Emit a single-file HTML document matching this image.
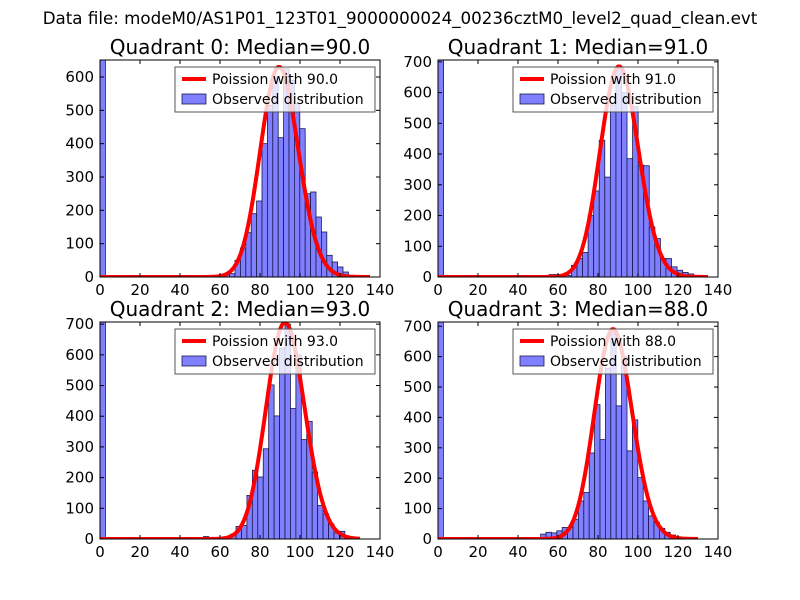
<!DOCTYPE html>
<html><head><meta charset="utf-8"><style>
body{margin:0;background:#fff;}
svg{display:block;font-family:"DejaVu Sans","Liberation Sans",sans-serif;}
</style></head><body>
<svg id="fig" width="800" height="600" viewBox="0 0 800 600">
<rect width="800" height="600" fill="#fff"/>
<text x="400" y="24" text-anchor="middle" font-size="16.7">Data file: modeM0/AS1P01_123T01_9000000024_00236cztM0_level2_quad_clean.evt</text>
</svg>
<script>
// ---- data ----
const quadrantNames = ["Quadrant 0","Quadrant 1","Quadrant 2","Quadrant 3"];
const medians = [90.0, 91.0, 93.0, 88.0];
const zeroBinCounts = [651, 706, 707, 714];
const binWidths = [2.7, 2.78, 2.72, 2.7];
const firstBinStarts = [56.7, 55.6, 51.7, 51.3];
const counts0 = [5,5,8,10,50,87,133,190,228,400,515,600,418,625,590,520,445,250,255,180,135,65,45,30,15,5];
const counts1 = [8,8,5,5,38,60,80,200,280,445,325,560,680,600,385,554,364,362,163,125,60,60,33,22,15,10];
const counts2 = [8,5,3,3,5,16,41,44,142,224,202,294,502,401,622,700,425,600,324,383,218,109,82,49,20,25];
const counts3 = [16,22,20,27,38,38,65,125,153,283,442,327,562,678,438,600,290,392,202,125,76,55,35,22,13];
const curvePeaks = [630, 685, 705, 690];
const curveMax = [135, 135, 130, 130];
const xTicks = [0,20,40,60,80,100,120,140];
const yTicks0 = [0,100,200,300,400,500,600];
const yTicks1 = [0,100,200,300,400,500,600,700];
const allCounts = [counts0, counts1, counts2, counts3];
const allYTicks = [yTicks0, yTicks1, yTicks1, yTicks1];

const NS = "http://www.w3.org/2000/svg";
const svg = document.getElementById("fig");
const boxes = [[100,60,380,277],[438,60,718,277],[100,322,380,539],[438,322,718,539]];
function mk(tag, attrs, parent){const e=document.createElementNS(NS,tag);for(const k in attrs)e.setAttribute(k,attrs[k]);(parent||svg).appendChild(e);return e;}
function lnGamma(z){
  if(z<7){let p=1;while(z<7){p*=z;z+=1;}return lnGamma(z)-Math.log(p);}
  return (z-0.5)*Math.log(z)-z+0.5*Math.log(2*Math.PI)+1/(12*z)-1/(360*z*z*z);
}
function logPmf(k,mu){return k*Math.log(mu)-mu-lnGamma(k+1);}

for(let q=0;q<4;q++){
  const [L,T,R,B]=boxes[q];
  const ymax=zeroBinCounts[q];
  const X=v=>L+(v/140)*(R-L);
  const Y=v=>B-(v/ymax)*(B-T);
  const g=mk("g",{});
  
  
  const cid="clip"+q;
  const cp=mk("clipPath",{id:cid},g);mk("rect",{x:L,y:T,width:R-L,height:B-T},cp);
  const plot=mk("g",{"clip-path":"url(#"+cid+")"},g);
  const z=mk("rect",{x:X(0),y:Y(zeroBinCounts[q]),width:X(binWidths[q])-X(0),height:B-Y(zeroBinCounts[q]),fill:"#7f7fff",stroke:"#1a1a4d","stroke-width":0.8},plot);
  
  
  const cs=allCounts[q];
  for(let i=0;i<cs.length;i++){
    const x0=firstBinStarts[q]+i*binWidths[q];
    const r=mk("rect",{x:X(x0),y:Y(cs[i]),width:X(x0+binWidths[q])-X(x0),height:B-Y(cs[i]),fill:"#7f7fff",stroke:"#1a1a4d","stroke-width":0.8},plot);
    
    
  }
  const mu=medians[q];const peak=logPmf(Math.floor(mu),mu);
  let d="";
  for(let k=0;k<=curveMax[q];k++){
    const v=curvePeaks[q]*Math.exp(logPmf(k,mu)-peak);
    d+=(k?"L":"M")+X(k).toFixed(1)+","+Y(v).toFixed(1);
  }
  const c=mk("path",{d:d,fill:"none",stroke:"#ff0000","stroke-width":4,"stroke-linejoin":"round"},plot);
  
  
  mk("rect",{x:L,y:T,width:R-L,height:B-T,fill:"none",stroke:"#000","stroke-width":1},g);
  for(const t of xTicks){
    const x=X(t);
    mk("line",{x1:x,y1:B,x2:x,y2:B-4,stroke:"#000"},g);
    mk("line",{x1:x,y1:T,x2:x,y2:T+4,stroke:"#000"},g);
    const tx=mk("text",{x:x,y:B+18,"text-anchor":"middle","font-size":15},g);tx.textContent=t;
    
    
  }
  for(const t of allYTicks[q]){
    const y=Y(t);
    mk("line",{x1:L,y1:y,x2:L+4,y2:y,stroke:"#000"},g);
    mk("line",{x1:R,y1:y,x2:R-4,y2:y,stroke:"#000"},g);
    const ty=mk("text",{x:L-6,y:y+5,"text-anchor":"end","font-size":15},g);ty.textContent=t;
    
    
  }
  const tt=mk("text",{x:(L+R)/2,y:T-6,"text-anchor":"middle","font-size":20},g);
  tt.textContent=quadrantNames[q]+": Median="+medians[q].toFixed(1);
  
  
  const lg=mk("g",{},g);
  
  
  const lx=R-205, ly=T+7;
  mk("rect",{x:lx,y:ly,width:200,height:45,fill:"#fff","fill-opacity":0.8,stroke:"#555","stroke-width":1},lg);
  mk("line",{x1:lx+7,y1:ly+12,x2:lx+31,y2:ly+12,stroke:"#ff0000","stroke-width":4},lg);
  const l1=mk("text",{x:lx+37,y:ly+17,"font-size":14},lg);l1.textContent="Poission with "+medians[q].toFixed(1);
  
  
  mk("rect",{x:lx+7,y:ly+27,width:24,height:10,fill:"#7f7fff",stroke:"#1a1a4d","stroke-width":0.8},lg);
  const l2=mk("text",{x:lx+37,y:ly+37,"font-size":14},lg);l2.textContent="Observed distribution";
  
  
}
</script>
</body></html>
